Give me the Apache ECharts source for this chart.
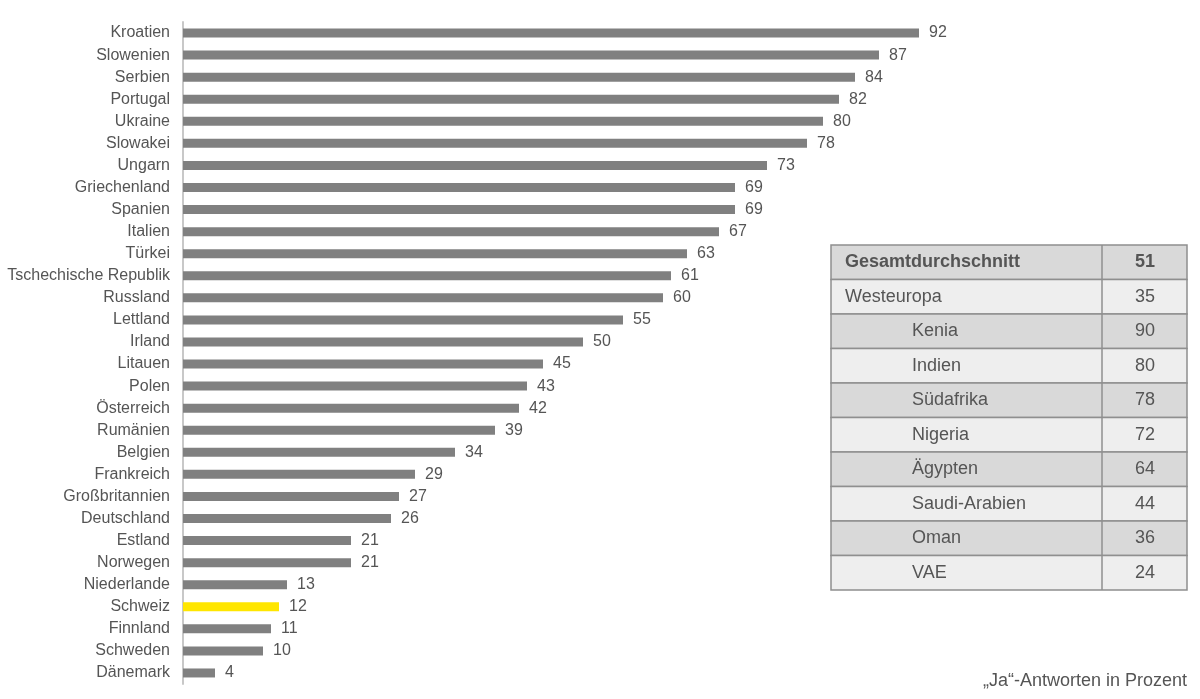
<!DOCTYPE html>
<html><head><meta charset="utf-8">
<script src="https://cdn.jsdelivr.net/npm/echarts@6/dist/echarts.min.js"></script>
<style>html,body{margin:0;padding:0;background:#fff;}#c{width:1200px;height:699px;}</style>
</head><body><div id="c"></div>
<script>
const categories = ["Kroatien","Slowenien","Serbien","Portugal","Ukraine","Slowakei","Ungarn","Griechenland","Spanien","Italien","Türkei","Tschechische Republik","Russland","Lettland","Irland","Litauen","Polen","Österreich","Rumänien","Belgien","Frankreich","Großbritannien","Deutschland","Estland","Norwegen","Niederlande","Schweiz","Finnland","Schweden","Dänemark"];
const values = [92,87,84,82,80,78,73,69,69,67,63,61,60,55,50,45,43,42,39,34,29,27,26,21,21,13,12,11,10,4];
const highlight = "Schweiz";
const tableLabels = ["Gesamtdurchschnitt","Westeuropa","Kenia","Indien","Südafrika","Nigeria","Ägypten","Saudi-Arabien","Oman","VAE"];
const tableValues = [51,35,90,80,78,72,64,44,36,24];
const footnote = "„Ja“-Antworten in Prozent";

const font = "Liberation Sans, Arial, sans-serif";
const txtColor = "#555555";

const chart = echarts.init(document.getElementById('c'));

const graphics = [];
const tx = 831, ty = 245, tw = 356, rh = 34.5, colX = 1102;
tableLabels.forEach((lab, i) => {
  const y = ty + i * rh;
  graphics.push({type:'rect', shape:{x:tx, y:y, width:tw, height:rh},
    style:{fill: i % 2 === 0 ? '#d9d9d9' : '#eeeeee', stroke:'#8f8f8f', lineWidth:1.5}, z:10});
  graphics.push({type:'line', shape:{x1:colX, y1:y, x2:colX, y2:y+rh}, style:{stroke:'#8f8f8f', lineWidth:1.5}, z:11});
  graphics.push({type:'text', x: i < 2 ? 845 : 912, y: y + rh/2,
    style:{text: lab, font: (i===0?'bold ':'') + '18px ' + font, fill: txtColor, textVerticalAlign:'middle', verticalAlign:'middle'}, z:12});
  graphics.push({type:'text', x: 1145, y: y + rh/2,
    style:{text: String(tableValues[i]), font: (i===0?'bold ':'') + '18px ' + font, fill: txtColor, textAlign:'center', align:'center', textVerticalAlign:'middle', verticalAlign:'middle'}, z:12});
});
graphics.push({type:'text', x:1187, y:681, style:{text: footnote, font:'18px ' + font, fill: txtColor, align:'right', textAlign:'right', verticalAlign:'middle', textVerticalAlign:'middle'}, z:12});

chart.setOption({
  animation:false,
  backgroundColor:'#ffffff',
  grid:{left:183, right:217, top:22, bottom:15, containLabel:false},
  xAxis:{type:'value', min:0, max:100, show:false},
  yAxis:{type:'category', inverse:true, data:categories,
    axisLine:{show:true, lineStyle:{color:'#c8c8c8', width:2}},
    axisTick:{show:false},
    axisLabel:{color:txtColor, fontSize:16, fontFamily:font, margin:13}
  },
  series:[{
    type:'bar',
    data: values.map((v,i)=>({value:v, itemStyle:{color: categories[i]===highlight ? '#ffe600' : '#808080'}})),
    barWidth:9,
    label:{show:true, position:'right', distance:10, color:txtColor, fontSize:16, fontFamily:font}
  }],
  graphic: graphics
});
</script></body></html>
